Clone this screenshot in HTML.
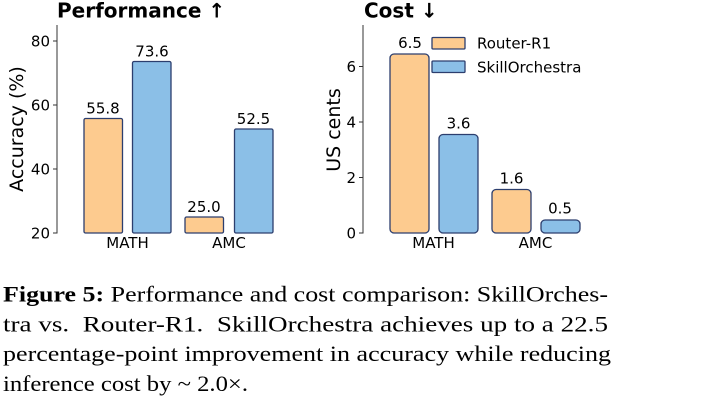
<!DOCTYPE html>
<html><head><meta charset="utf-8"><style>
html,body{margin:0;padding:0;background:#fff;}
svg{display:block;}
.t{font-family:"DejaVu Sans","Liberation Sans",sans-serif;fill:#000;}
.c{font-family:"Liberation Serif","DejaVu Serif",serif;fill:#000;font-size:22.5px;}
</style></head><body>
<svg width="714" height="401" viewBox="0 0 714 401" xmlns="http://www.w3.org/2000/svg">
<rect width="714" height="401" fill="#fff"/>
<!-- Left chart -->
<text class="t" x="57" y="17.5" font-size="20" font-weight="bold">Performance ↑</text>
<line x1="57" y1="25" x2="57" y2="233.5" stroke="#333" stroke-width="1"/>
<g stroke="#333" stroke-width="1">
<line x1="53" y1="41" x2="57" y2="41"/><line x1="53" y1="105" x2="57" y2="105"/>
<line x1="53" y1="169" x2="57" y2="169"/><line x1="53" y1="233" x2="57" y2="233"/>
</g>
<g class="t" font-size="15" text-anchor="end">
<text x="50" y="46.5">80</text><text x="50" y="110.5">60</text>
<text x="50" y="174.5">40</text><text x="50" y="238.5">20</text>
</g>
<text class="t" font-size="19" text-anchor="middle" transform="translate(23,129) rotate(-90)">Accuracy (%)</text>
<g stroke="#2c3e6e" stroke-width="1.3">
<rect x="84" y="118.5" width="38.5" height="114.5" rx="1.5" fill="#fdcb8f"/>
<rect x="132.5" y="61.5" width="38.5" height="171.5" rx="1.5" fill="#8bbfe7"/>
<rect x="185" y="217" width="38.5" height="16" rx="1.5" fill="#fdcb8f"/>
<rect x="234.5" y="129" width="38.5" height="104" rx="1.5" fill="#8bbfe7"/>
</g>
<g class="t" font-size="15" text-anchor="middle">
<text x="103" y="113.5">55.8</text><text x="152" y="56.5">73.6</text>
<text x="204" y="212">25.0</text><text x="253.5" y="124">52.5</text>
<text x="127.5" y="248">MATH</text><text x="229" y="248">AMC</text>
</g>
<!-- Right chart -->
<text class="t" x="364" y="17.5" font-size="20" font-weight="bold">Cost ↓</text>
<line x1="363" y1="25" x2="363" y2="233.5" stroke="#333" stroke-width="1"/>
<g stroke="#333" stroke-width="1">
<line x1="359" y1="66.5" x2="363" y2="66.5"/><line x1="359" y1="122" x2="363" y2="122"/>
<line x1="359" y1="177.5" x2="363" y2="177.5"/><line x1="359" y1="233" x2="363" y2="233"/>
</g>
<g class="t" font-size="15" text-anchor="end">
<text x="356" y="72">6</text><text x="356" y="127.5">4</text>
<text x="356" y="183">2</text><text x="356" y="238.5">0</text>
</g>
<text class="t" font-size="19" text-anchor="middle" transform="translate(340,130) rotate(-90)">US cents</text>
<g stroke="#2c3e6e" stroke-width="1.3">
<rect x="390" y="54" width="39" height="179" rx="4" fill="#fdcb8f"/>
<rect x="439" y="134.5" width="39" height="98.5" rx="4" fill="#8bbfe7"/>
<rect x="492" y="189.5" width="39" height="43.5" rx="4" fill="#fdcb8f"/>
<rect x="541" y="220" width="39" height="13" rx="4" fill="#8bbfe7"/>
<rect x="432" y="37.5" width="33" height="11.5" rx="1" fill="#fdcb8f"/>
<rect x="432" y="61" width="33" height="11.5" rx="1" fill="#8bbfe7"/>
</g>
<g class="t" font-size="15">
<text x="477" y="48.5">Router-R1</text>
<text x="477" y="72.5">SkillOrchestra</text>
</g>
<g class="t" font-size="15" text-anchor="middle">
<text x="410" y="48">6.5</text><text x="458.5" y="128.5">3.6</text>
<text x="511.5" y="183.5">1.6</text><text x="560" y="213.5">0.5</text>
<text x="433.5" y="248">MATH</text><text x="535.5" y="248">AMC</text>
</g>
<!-- Caption -->
<text class="c" x="3" y="301.7" textLength="605" lengthAdjust="spacingAndGlyphs"><tspan font-weight="bold">Figure 5:</tspan> Performance and cost comparison: SkillOrches-</text>
<text class="c" x="3" y="331.5" textLength="605" lengthAdjust="spacingAndGlyphs">tra vs.&#160; Router-R1.&#160; SkillOrchestra achieves up to a 22.5</text>
<text class="c" x="3" y="361.2" textLength="608" lengthAdjust="spacingAndGlyphs">percentage-point improvement in accuracy while reducing</text>
<text class="c" x="3" y="391" textLength="245" lengthAdjust="spacingAndGlyphs">inference cost by ~ 2.0×.</text>
</svg>
</body></html>
